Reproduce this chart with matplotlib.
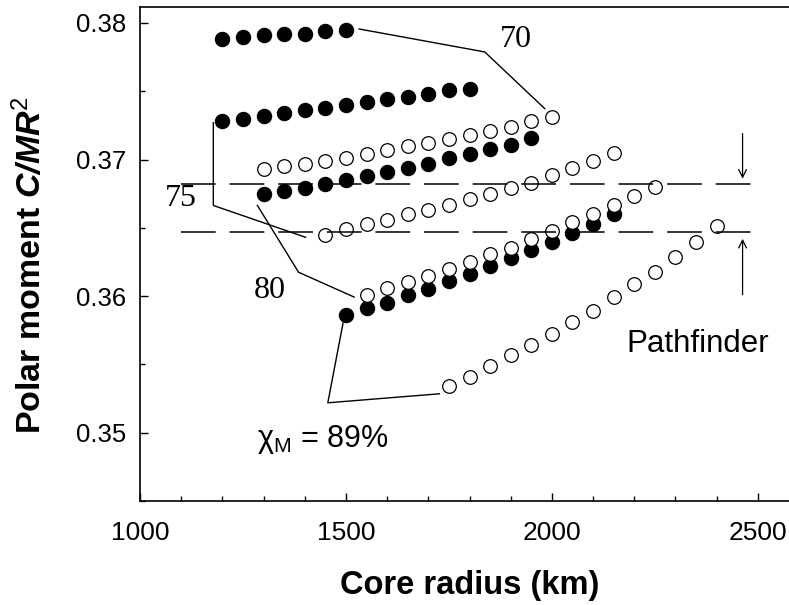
import matplotlib
matplotlib.use("Agg")
import matplotlib.pyplot as plt
import numpy as np

plt.rcParams['font.family'] = ['Liberation Sans', 'DejaVu Sans']
plt.rcParams['mathtext.fontset'] = 'custom'
plt.rcParams['mathtext.rm'] = 'Liberation Sans'
plt.rcParams['mathtext.it'] = 'Liberation Sans:italic'
plt.rcParams['mathtext.bf'] = 'Liberation Sans:bold'
plt.rcParams['mathtext.bfit'] = 'Liberation Sans:bold:italic'
plt.rcParams['lines.scale_dashes'] = False

# ---- data (core radius km, polar moment C/MR^2) ----
r_70_filled = [1200, 1250, 1300, 1350, 1400, 1450, 1500]
c_70_filled = [0.3788, 0.3790, 0.3791, 0.3792, 0.3792, 0.3794, 0.3795]
r_70_open = [1300, 1350, 1400, 1450, 1500, 1550, 1600, 1650, 1700, 1750, 1800, 1850, 1900, 1950, 2000]
c_70_open = [0.3693, 0.3695, 0.3697, 0.3699, 0.3701, 0.3704, 0.3707, 0.3710, 0.3712, 0.3715, 0.3718, 0.3721, 0.3724, 0.3728, 0.3731]

r_75_filled = [1200, 1250, 1300, 1350, 1400, 1450, 1500, 1550, 1600, 1650, 1700, 1750, 1800]
c_75_filled = [0.3728, 0.3730, 0.3732, 0.3734, 0.3736, 0.3738, 0.3740, 0.3742, 0.3744, 0.3746, 0.3748, 0.3751, 0.3752]
r_75_open = [1450, 1500, 1550, 1600, 1650, 1700, 1750, 1800, 1850, 1900, 1950, 2000, 2050, 2100, 2150]
c_75_open = [0.3645, 0.3649, 0.3653, 0.3656, 0.3660, 0.3663, 0.3667, 0.3671, 0.3675, 0.3679, 0.3683, 0.3689, 0.3694, 0.3699, 0.3705]

r_80_filled = [1300, 1350, 1400, 1450, 1500, 1550, 1600, 1650, 1700, 1750, 1800, 1850, 1900, 1950]
c_80_filled = [0.3675, 0.3677, 0.3679, 0.3682, 0.3685, 0.3688, 0.3691, 0.3694, 0.3697, 0.3701, 0.3704, 0.3708, 0.3711, 0.3716]
r_80_open = [1550, 1600, 1650, 1700, 1750, 1800, 1850, 1900, 1950, 2000, 2050, 2100, 2150, 2200, 2250]
c_80_open = [0.3601, 0.3606, 0.3610, 0.3615, 0.3620, 0.3625, 0.3631, 0.3635, 0.3642, 0.3648, 0.3654, 0.3660, 0.3667, 0.3673, 0.3680]

r_89_filled = [1500, 1550, 1600, 1650, 1700, 1750, 1800, 1850, 1900, 1950, 2000, 2050, 2100, 2150]
c_89_filled = [0.3586, 0.3591, 0.3595, 0.3601, 0.3605, 0.3611, 0.3616, 0.3622, 0.3628, 0.3634, 0.3640, 0.3646, 0.3653, 0.3660]
r_89_open = [1750, 1800, 1850, 1900, 1950, 2000, 2050, 2100, 2150, 2200, 2250, 2300, 2350, 2400]
c_89_open = [0.3534, 0.3541, 0.3549, 0.3557, 0.3564, 0.3572, 0.3581, 0.3589, 0.3599, 0.3609, 0.3618, 0.3629, 0.3640, 0.3651]

pathfinder_bounds = [0.3682, 0.3647]
pathfinder_span = [1100, 2500]

labels = ["70", "75", "80"]
label_x = [1913, 1100, 1316]
label_y = [0.37876, 0.36712, 0.36040]

# leader lines (annotation callouts)
lead_70_x = [1532, 1837, 1983]
lead_70_y = [0.37956, 0.37788, 0.37372]
lead_75_x = [1178, 1178, 1402]
lead_75_y = [0.37270, 0.36664, 0.36431]
lead_80_x = [1285, 1385, 1520]
lead_80_y = [0.36664, 0.36175, 0.35993]
lead_89_x = [1493, 1456, 1727]
lead_89_y = [0.35803, 0.35219, 0.35285]

xticks = [1000, 1500, 2000, 2500]
yticks = [0.35, 0.36, 0.37, 0.38]
ytick_labels = ["0.35", "0.36", "0.37", "0.38"]

W, H = 789, 605
fig = plt.figure(figsize=(W / 100, H / 100), dpi=100)
ax = fig.add_axes([140 / W, 1 - 501 / H, (799 - 140) / W, (501 - 7) / H])
ax.set_xlim(1000, 2600)
ax.set_ylim(0.34503, 0.38117)

for lx, ly in [(lead_70_x, lead_70_y), (lead_75_x, lead_75_y),
               (lead_80_x, lead_80_y), (lead_89_x, lead_89_y)]:
    ax.plot(lx, ly, color='black', lw=1.0, zorder=2)

for yb in pathfinder_bounds:
    ax.plot(pathfinder_span, [yb, yb], color='black', lw=1.1,
            dashes=(25, 10), zorder=4)

filled = [(r_70_filled, c_70_filled), (r_75_filled, c_75_filled),
          (r_80_filled, c_80_filled), (r_89_filled, c_89_filled)]
opened = [(r_70_open, c_70_open), (r_75_open, c_75_open),
          (r_80_open, c_80_open), (r_89_open, c_89_open)]
for rr, cc in filled:
    ax.plot(rr, cc, 'o', ms=10.3, mfc='black', mec='black', mew=0.8, ls='none', zorder=3)
for rr, cc in opened:
    ax.plot(rr, cc, 'o', ms=9.8, mfc='white', mec='black', mew=0.9, ls='none', zorder=3.5)

# arrows marking the Pathfinder range
ax.annotate('', xy=(2463, 0.3686), xytext=(2463, 0.3719),
            arrowprops=dict(arrowstyle='->', lw=0.9, color='black',
                            shrinkA=0, shrinkB=0, mutation_scale=14))
ax.annotate('', xy=(2463, 0.3642), xytext=(2463, 0.3601),
            arrowprops=dict(arrowstyle='->', lw=0.9, color='black',
                            shrinkA=0, shrinkB=0, mutation_scale=14))

for t, x, y in zip(labels, label_x, label_y):
    ax.text(x, y, t, fontsize=23, family=['Liberation Serif'], ha='center', va='center')

ax.text(1284, 0.34898, r'χ$_{\mathrm{M}}$ = 89%', fontsize=22, ha='left', va='baseline')
ax.text(2182, 0.35590, 'Pathfinder', fontsize=22.5, ha='left', va='baseline')

ax.set_xticks(xticks)
ax.set_xticklabels([str(v) for v in xticks])
ax.set_xticks(np.arange(1000, 2601, 100), minor=True)
ax.set_yticks(yticks)
ax.set_yticklabels(ytick_labels)
ax.set_yticks(np.arange(0.345, 0.3812, 0.005), minor=True)
ax.tick_params(which='both', direction='in', top=False, right=False, width=1.0)
ax.tick_params(which='major', length=6)
ax.tick_params(which='minor', length=3.5)
ax.tick_params(axis='x', which='major', labelsize=19, pad=14.5)
ax.tick_params(axis='y', which='major', labelsize=18.5, pad=10)
for s in ax.spines.values():
    s.set_linewidth(1.2)
ax.spines['right'].set_visible(False)

ax.set_xlabel('Core radius (km)', fontsize=23.5, fontweight='bold', labelpad=18)
ax.set_ylabel(r'Polar moment $\mathbfit{C/MR}^{\mathrm{2}}$', fontsize=24.5,
              fontweight='bold')
ax.yaxis.set_label_coords(-0.139, 0.478)

fig.savefig('out.png', dpi=100)
